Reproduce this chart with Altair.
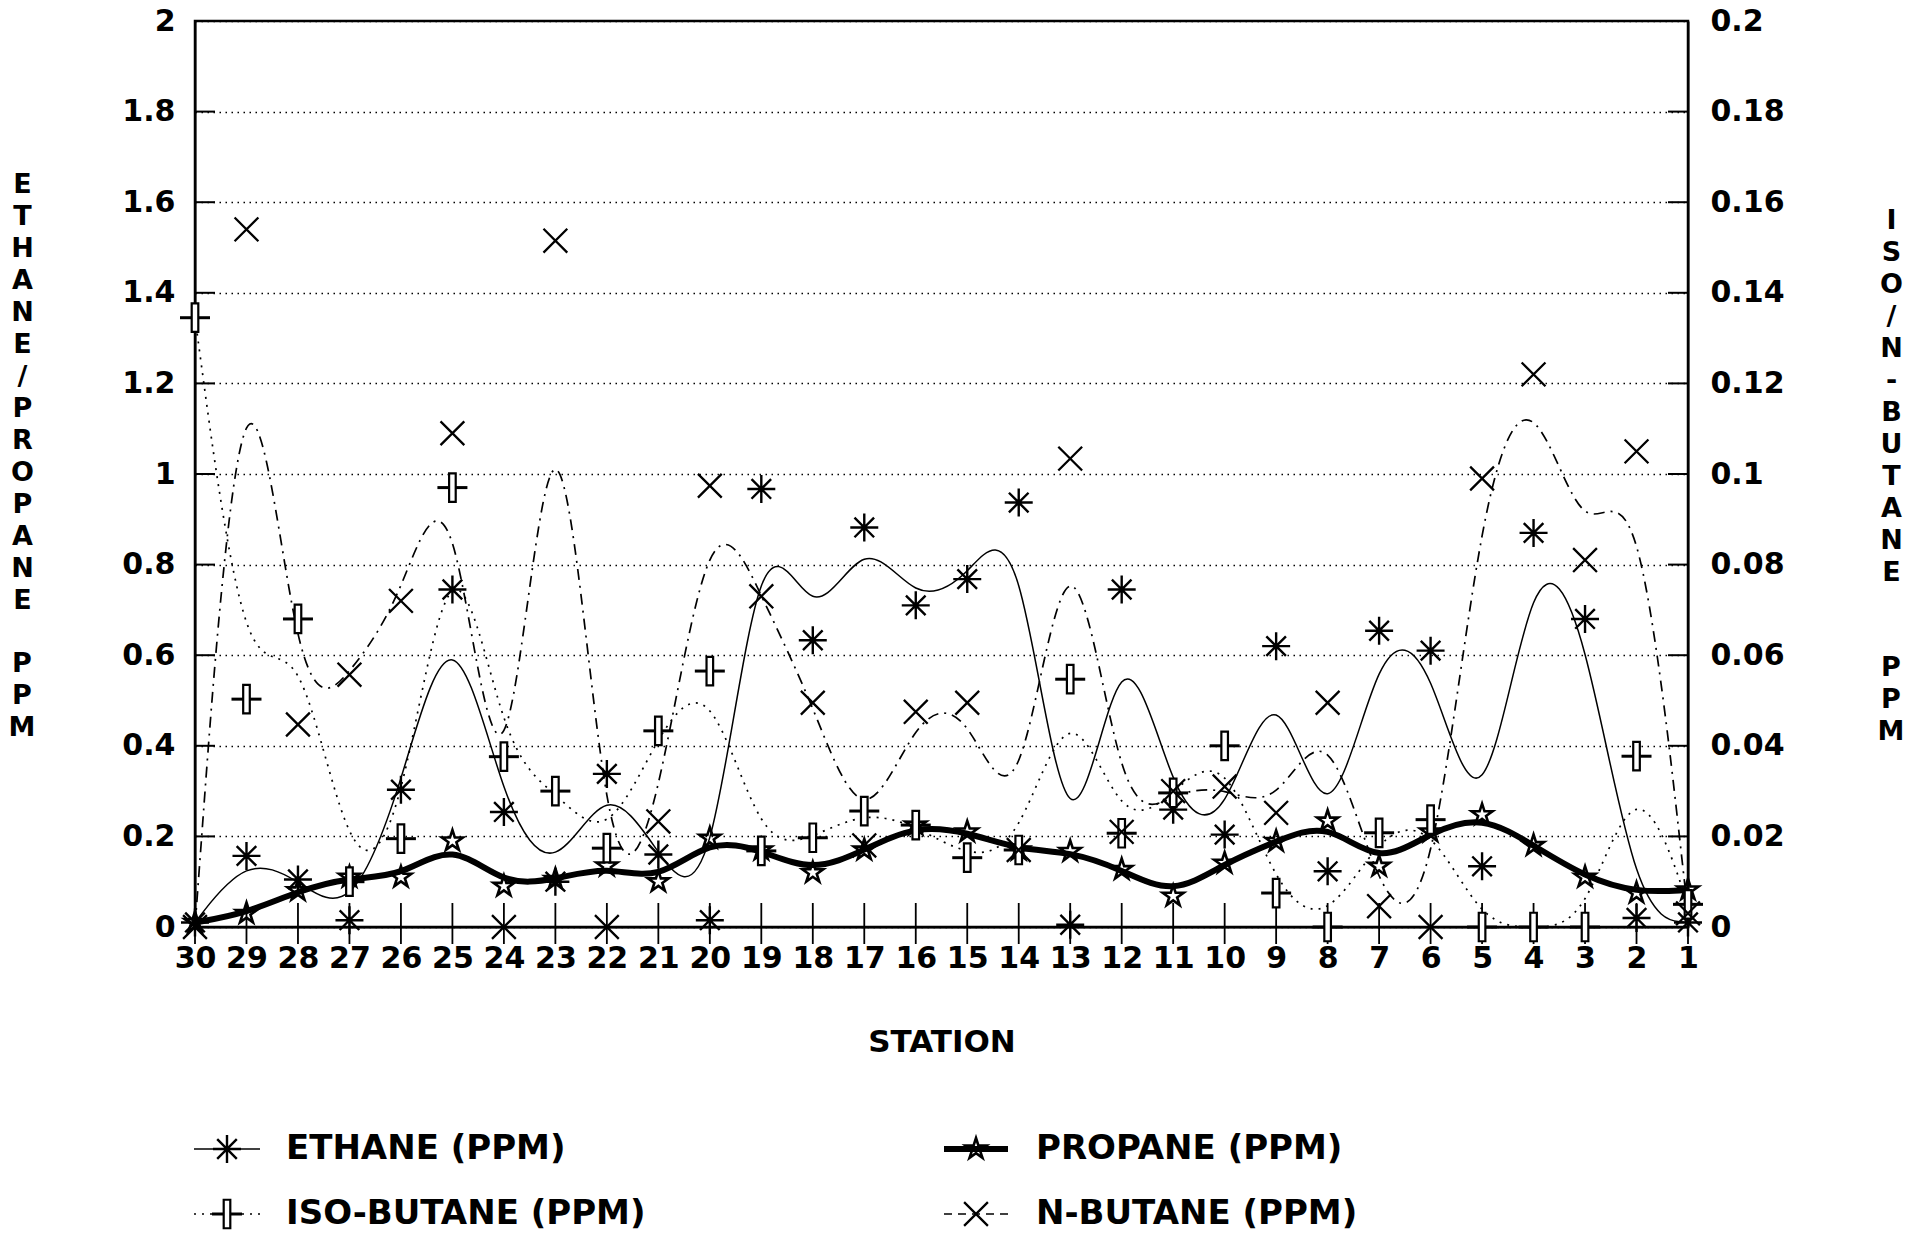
import altair as alt
import pandas as pd

# ---------------- data ----------------
STATIONS = list(range(30, 0, -1))  # 30 ... 1, left to right

ETHANE = [0.01, 0.157, 0.105, 0.015, 0.303, 0.745, 0.254, 0.10, 0.338, 0.16,
          0.015, 0.967, 0.633, 0.882, 0.71, 0.768, 0.937, 0.005, 0.745, 0.259,
          0.204, 0.62, 0.123, 0.654, 0.61, 0.134, 0.87, 0.68, 0.02, 0.01]

PROPANE = [0.01, 0.03, 0.08, 0.11, 0.11, 0.19, 0.09, 0.105, 0.135, 0.10,
           0.196, 0.17, 0.12, 0.17, 0.225, 0.21, 0.17, 0.167, 0.127, 0.068,
           0.141, 0.189, 0.234, 0.134, 0.21, 0.248, 0.18, 0.11, 0.075, 0.082]

ISO_BUTANE = [0.1345, 0.0503, 0.068, 0.010, 0.0195, 0.097, 0.0376, 0.030, 0.0174, 0.0433,
              0.0565, 0.0168, 0.0197, 0.0256, 0.0225, 0.0153, 0.017, 0.0547, 0.0207, 0.0296,
              0.040, 0.0075, 0.0, 0.0208, 0.0237, 0.0, 0.0, 0.0, 0.0377, 0.005]

N_BUTANE = [0.0, 0.154, 0.0447, 0.0557, 0.072, 0.109, 0.0, 0.1515, 0.0, 0.0233,
            0.0974, 0.073, 0.0495, 0.018, 0.0475, 0.0495, 0.017, 0.1034, 0.021, 0.030,
            0.031, 0.0252, 0.0495, 0.0046, 0.0, 0.099, 0.122, 0.081, 0.105, 0.003]

LEFT_TICKS = [0.2, 0.4, 0.6, 0.8, 1.0, 1.2, 1.4, 1.6, 1.8]

LEFT_TITLE = list("ETHANE/PROPANE")
RIGHT_TITLE = list("ISO/N-BUTANE")
UNIT_TITLE = "\n".join("PPM")
X_TITLE = "STATION"

LEGEND_LABELS = ["ETHANE (PPM)", "PROPANE (PPM)", "ISO-BUTANE (PPM)", "N-BUTANE (PPM)"]

# ---------------- layout / style ----------------
W, H = 1493, 906
FONT = "DejaVu Sans"
LINE_H = 32

ASTERISK = "M-1,0L1,0M0,-1L0,1M-0.7,-0.7L0.7,0.7M-0.7,0.7L0.7,-0.7"
STAR = ("M0,-1L0.223,-0.307L0.951,-0.309L0.361,0.117L0.588,0.809L0,0.38"
        "L-0.588,0.809L-0.361,0.117L-0.951,-0.309L-0.223,-0.307Z")
HBAR = "M-1,-0.1L1,-0.1L1,0.1L-1,0.1Z"
VBAR = "M-0.22,-0.95L0.22,-0.95L0.22,0.95L-0.22,0.95Z"
CROSS = "M-0.85,-0.85L0.85,0.85M-0.85,0.85L0.85,-0.85"

df = pd.DataFrame({
    "station": STATIONS,
    "ethane": ETHANE,
    "propane": PROPANE,
    "iso": ISO_BUTANE,
    "nbut": N_BUTANE,
})
ticks_df = pd.DataFrame({"v": LEFT_TICKS})

X_AXIS = alt.Axis(
    title=X_TITLE, labelAngle=0, labelOverlap=False, ticks=False, tickSize=0,
    labelFont=FONT, labelFontSize=30, labelFontWeight="bold", labelColor="black",
    labelPadding=16, labelBaseline="top",
    titleFont=FONT, titleFontSize=31, titleFontWeight="bold", titleColor="black",
    titleY=115, titleBaseline="middle",
    domainColor="black", domainWidth=2, grid=False,
)
xenc = alt.X("station:O", sort=STATIONS,
             scale=alt.Scale(type="point", padding=0), axis=X_AXIS)

LEFT_TITLE_X, LEFT_TITLE_Y = -173, 150
RIGHT_TITLE_X, RIGHT_TITLE_Y = 203, 186

LEFT_AXIS = alt.Axis(
    title=LEFT_TITLE, values=[0, 0.2, 0.4, 0.6, 0.8, 1, 1.2, 1.4, 1.6, 1.8, 2],
    format=".1~f", ticks=False, tickSize=0,
    labelFont=FONT, labelFontSize=30, labelFontWeight="bold", labelColor="black",
    labelPadding=20,
    titleFont=FONT, titleFontSize=27, titleFontWeight="bold", titleColor="black",
    titleAngle=0, titleAlign="center", titleBaseline="top",
    titleX=LEFT_TITLE_X, titleY=LEFT_TITLE_Y, titleLineHeight=LINE_H,
    domainColor="black", domainWidth=2,
    grid=True, gridColor="black", gridDash=[1.5, 4.5], gridWidth=1.3, gridOpacity=1,
)
RIGHT_AXIS = alt.Axis(
    title=RIGHT_TITLE, orient="right",
    values=[0, 0.02, 0.04, 0.06, 0.08, 0.1, 0.12, 0.14, 0.16, 0.18, 0.2],
    format=".2~f", ticks=False, tickSize=0,
    labelFont=FONT, labelFontSize=30, labelFontWeight="bold", labelColor="black",
    labelPadding=22,
    titleFont=FONT, titleFontSize=27, titleFontWeight="bold", titleColor="black",
    titleAngle=0, titleAlign="center", titleBaseline="top",
    titleX=RIGHT_TITLE_X, titleY=RIGHT_TITLE_Y, titleLineHeight=LINE_H,
    domainColor="black", domainWidth=2, grid=False,
)
LSCALE = alt.Scale(domain=[0, 2], nice=False, zero=True)
RSCALE = alt.Scale(domain=[0, 0.2], nice=False, zero=True)


def yl(field):
    return alt.Y(f"{field}:Q", scale=LSCALE, axis=LEFT_AXIS)


def yr(field):
    return alt.Y(f"{field}:Q", scale=RSCALE, axis=RIGHT_AXIS)


base = alt.Chart(df)

left_layers = [
    alt.Chart(ticks_df).mark_rule(color="black", strokeWidth=2).encode(
        y=yl("v"), x=alt.value(0), x2=alt.value(20)),
    alt.Chart(ticks_df).mark_rule(color="black", strokeWidth=2).encode(
        y=yl("v"), x=alt.value(W - 20), x2=alt.value(W)),
    base.mark_rule(color="black", strokeWidth=1.8).encode(
        x=xenc, y=alt.value(H - 24), y2=alt.value(H + 17)),
    base.mark_line(interpolate="basis", color="black", strokeWidth=1.5).encode(
        x=xenc, y=yl("ethane")),
    base.mark_line(interpolate="basis", color="black", strokeWidth=6).encode(
        x=xenc, y=yl("propane")),
    base.mark_point(shape=ASTERISK, size=784, filled=False, color="black",
                    strokeWidth=2.4, opacity=1).encode(x=xenc, y=yl("ethane")),
    base.mark_point(shape=STAR, size=484, filled=False, color="black",
                    strokeWidth=2.6, opacity=1).encode(x=xenc, y=yl("propane")),
]

right_layers = [
    base.mark_line(interpolate="basis", color="black", strokeWidth=1.7,
                   strokeDash=[2, 6]).encode(x=xenc, y=yr("iso")),
    base.mark_line(interpolate="basis", color="black", strokeWidth=1.7,
                   strokeDash=[11, 6, 2, 6]).encode(x=xenc, y=yr("nbut")),
    base.mark_point(shape=HBAR, size=900, filled=True, color="black",
                    strokeWidth=1, opacity=1).encode(x=xenc, y=yr("iso")),
    base.mark_point(shape=VBAR, size=900, fill="white", stroke="black",
                    strokeWidth=2.2, opacity=1, fillOpacity=1).encode(x=xenc, y=yr("iso")),
    base.mark_point(shape=CROSS, size=784, filled=False, color="black",
                    strokeWidth=2.3, opacity=1).encode(x=xenc, y=yr("nbut")),
]

unit_df = pd.DataFrame({"t": [UNIT_TITLE]})
unit_layers = [
    alt.Chart(unit_df).mark_text(
        align="center", baseline="top", lineBreak="\n", lineHeight=LINE_H,
        font=FONT, fontSize=27, fontWeight="bold", color="black").encode(
        x=alt.value(LEFT_TITLE_X), y=alt.value(LEFT_TITLE_Y + 15 * LINE_H), text="t:N"),
    alt.Chart(unit_df).mark_text(
        align="center", baseline="top", lineBreak="\n", lineHeight=LINE_H,
        font=FONT, fontSize=27, fontWeight="bold", color="black").encode(
        x=alt.value(W + RIGHT_TITLE_X), y=alt.value(RIGHT_TITLE_Y + 14 * LINE_H), text="t:N"),
]

ROW_Y = [1128, 1193]
COLS = [(-1, 65, 32, 91), (749, 813, 781, 841)]
LEG = [
    (LEGEND_LABELS[0], 0, 0, dict(strokeWidth=1.5), "ethane"),
    (LEGEND_LABELS[1], 1, 0, dict(strokeWidth=6), "propane"),
    (LEGEND_LABELS[2], 0, 1, dict(strokeWidth=1.7, strokeDash=[2, 6]), "iso"),
    (LEGEND_LABELS[3], 1, 1, dict(strokeWidth=1.7, strokeDash=[8, 6]), "nbut"),
]
legend_layers = []
for label, c, r, lkw, kind in LEG:
    x1, x2, mx, tx = COLS[c]
    y = ROW_Y[r]
    one = alt.Chart(pd.DataFrame({"label": [label]}))
    legend_layers.append(one.mark_rule(color="black", **lkw).encode(
        x=alt.value(x1), x2=alt.value(x2), y=alt.value(y)))
    pos = dict(x=alt.value(mx), y=alt.value(y))
    if kind == "ethane":
        legend_layers.append(one.mark_point(shape=ASTERISK, size=784, filled=False, color="black",
                                            strokeWidth=2.4, opacity=1).encode(**pos))
    elif kind == "propane":
        legend_layers.append(one.mark_point(shape=STAR, size=484, filled=False, color="black",
                                            strokeWidth=2.6, opacity=1).encode(**pos))
    elif kind == "iso":
        legend_layers.append(one.mark_point(shape=HBAR, size=900, filled=True, color="black",
                                            strokeWidth=1, opacity=1).encode(**pos))
        legend_layers.append(one.mark_point(shape=VBAR, size=900, fill="white", stroke="black",
                                            strokeWidth=2.2, opacity=1, fillOpacity=1).encode(**pos))
    else:
        legend_layers.append(one.mark_point(shape=CROSS, size=784, filled=False, color="black",
                                            strokeWidth=2.3, opacity=1).encode(**pos))
    legend_layers.append(one.mark_text(align="left", baseline="middle", font=FONT,
                                       fontSize=34, fontWeight="bold", color="black").encode(
        x=alt.value(tx), y=alt.value(y), text="label:N"))

chart = alt.layer(
    alt.layer(*left_layers),
    alt.layer(*right_layers),
    *unit_layers,
    *legend_layers,
).resolve_scale(y="independent").properties(
    width=W, height=H,
    autosize=alt.AutoSizeParams(type="none"),
    padding={"left": 195, "top": 21, "right": 234, "bottom": 307},
    background="white",
).configure_view(stroke="black", strokeWidth=2.5)

chart.save("out.html", embed_options={"renderer": "svg", "actions": False})
